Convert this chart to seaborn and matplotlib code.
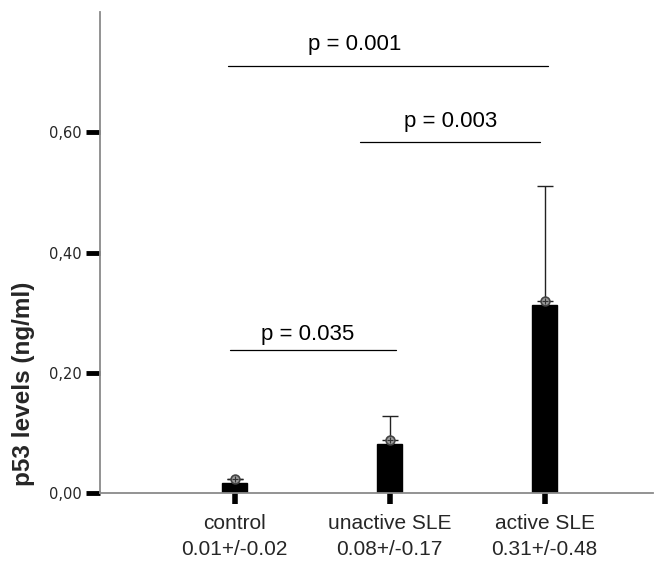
import matplotlib
matplotlib.use("Agg")
import matplotlib.pyplot as plt
import seaborn as sns
import pandas as pd

categories = ["control\n0.01+/-0.02", "unactive SLE\n0.08+/-0.17", "active SLE\n0.31+/-0.48"]
bar_values = [0.017, 0.081, 0.312]
mean_values = [0.023, 0.088, 0.319]
upper_values = [0.023, 0.128, 0.510]
y_ticks = [0.0, 0.2, 0.4, 0.6]
y_tick_labels = ["0,00", "0,20", "0,40", "0,60"]
p_texts = ["p = 0.001", "p = 0.003", "p = 0.035"]
p_x0 = [-0.045, 0.806, -0.032]
p_x1 = [2.02, 1.968, 1.039]
p_line_y = [0.711, 0.583, 0.238]
p_text_x = [0.774, 1.394, 0.471]
p_text_y = [0.736, 0.608, 0.254]

sns.set_theme(style="white")
plt.rcParams["font.family"] = ["Liberation Sans", "DejaVu Sans"]

fig = plt.figure(figsize=(6.63, 5.61), dpi=100)
ax = fig.add_axes([0.1508, 0.1212, 0.985 - 0.1508, 0.9786 - 0.1212])

df = pd.DataFrame({"group": categories, "value": bar_values})
sns.barplot(data=df, x="group", y="value", color="black", width=0.16,
            saturation=1, ax=ax, errorbar=None)
for p in ax.patches:
    p.set_edgecolor("black")

xs = list(range(len(categories)))
yerr_low = [0] * len(categories)
yerr_up = [u - m for u, m in zip(upper_values, mean_values)]
ax.errorbar(xs, mean_values, yerr=[yerr_low, yerr_up], fmt="none",
            ecolor="#222222", elinewidth=1.0, capsize=6, capthick=1.0, zorder=3)
ax.scatter(xs, mean_values, s=40, facecolor="#9a9a9a", edgecolor="#444444",
           linewidth=1.2, zorder=4)
ax.scatter(xs, mean_values, s=22, marker="+", color="#333333", linewidth=0.8, zorder=5)

for t, x0, x1, ly, tx, ty in zip(p_texts, p_x0, p_x1, p_line_y, p_text_x, p_text_y):
    ax.plot([x0, x1], [ly, ly], color="black", linewidth=0.9)
    ax.text(tx, ty, t, ha="center", va="baseline", fontsize=16, color="black")

ax.set_ylim(0, 0.8)
ax.set_xlim(-0.87, 2.70)
ax.set_yticks(y_ticks)
ax.set_yticklabels(y_tick_labels, fontsize=10.5, family=["DejaVu Sans"])
ax.set_xticks(xs)
ax.set_xticklabels(categories, fontsize=15, linespacing=1.45)
ax.set_xlabel("")
ax.set_ylabel("p53 levels (ng/ml)", fontsize=17.5, fontweight="bold")
ax.yaxis.set_label_coords(-0.118, 0.227)

ax.tick_params(axis="y", which="major", left=True, length=10, width=3.5, color="black", pad=3)
ax.tick_params(axis="x", which="major", bottom=True, length=8, width=4, color="black", pad=7)

for s in ["top", "right"]:
    ax.spines[s].set_visible(False)
for s in ["left", "bottom"]:
    ax.spines[s].set_color("#8a8a8a")
    ax.spines[s].set_linewidth(1.3)

fig.savefig("out.png", dpi=100)
